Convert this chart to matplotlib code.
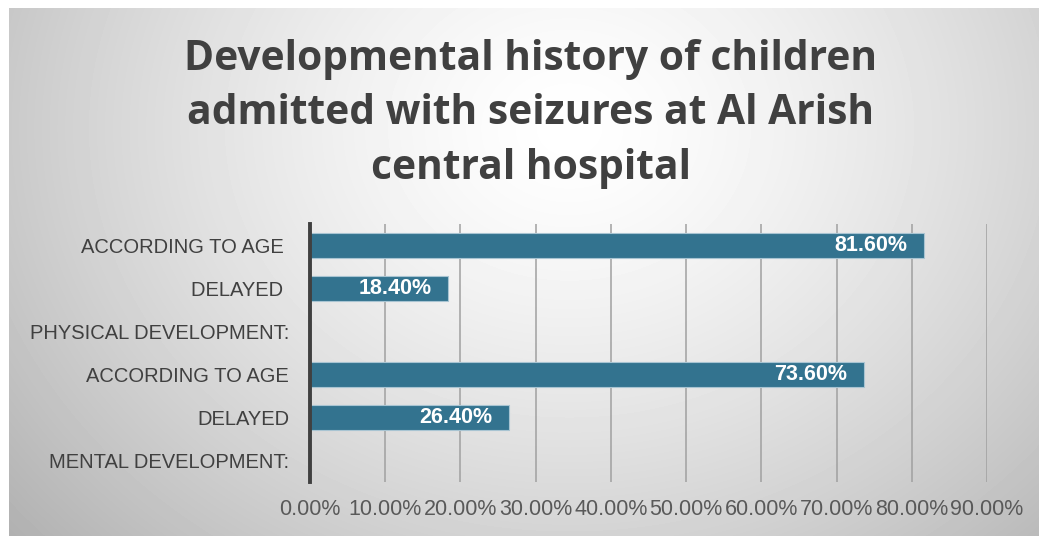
import numpy as np
import matplotlib.pyplot as plt

# data, listed bottom to top as drawn
categories = ["MENTAL DEVELOPMENT:", "DELAYED", "ACCORDING TO AGE",
              "PHYSICAL DEVELOPMENT:", "DELAYED ", "ACCORDING TO AGE "]
values = [np.nan, 26.4, 73.6, np.nan, 18.4, 81.6]
xticks = [0, 10, 20, 30, 40, 50, 60, 70, 80, 90]
title = "Developmental history of children\nadmitted with seizures at Al Arish\ncentral hospital"

W, H = 1039, 536
fig = plt.figure(figsize=(W / 100, H / 100), dpi=100)
fig.patch.set_facecolor("white")

# radial grey gradient background of the chart area
bg = fig.add_axes([9 / W, 0, 1 - 9 / W, 1 - 8 / H], zorder=-5)
yy, xx = np.mgrid[0:528, 0:1030]
r = np.sqrt(((xx - 560) / 620) ** 2 + ((yy - 120) / 520) ** 2)
shade = 1.0 - 0.24 * np.clip(r, 0, 1.2) ** 1.4
bg.imshow(shade, cmap="gray", vmin=0, vmax=1, aspect="auto", interpolation="bilinear")
bg.set_axis_off()

ax = fig.add_axes([310 / W, 1 - 482 / H, (987 - 310) / W, (482 - 224) / H])
ax.set_facecolor("none")

y = np.arange(len(categories))
bars = ax.barh(y, values, height=0.58, color="#33738f", edgecolor="#a8c4d2",
               linewidth=0.8, zorder=3)
for b, v in zip(bars, values):
    if np.isnan(v):
        continue
    ax.text(v - 2.2, b.get_y() + b.get_height() / 2, f"{v:.2f}%", ha="right",
            va="center", color="white", fontsize=15.5, fontweight="bold",
            family="Liberation Sans", zorder=4)

ax.set_xlim(0, 90)
ax.set_ylim(-0.5, len(categories) - 0.5)
ax.set_xticks(xticks)
ax.set_xticklabels([f"{t:.2f}%" for t in xticks], fontsize=15.5,
                   color="#595959", family="Liberation Sans")
ax.set_yticks(y)
ax.set_yticklabels(categories, fontsize=14.5, color="#404040",
                   family="Liberation Sans")
ax.tick_params(axis="both", length=0)
ax.tick_params(axis="x", pad=12)
ax.tick_params(axis="y", pad=15)
ax.grid(axis="x", color="#a0a0a0", linewidth=1.1, zorder=0)
for s in ["top", "right", "bottom"]:
    ax.spines[s].set_visible(False)
ax.spines["left"].set_color("#404040")
ax.spines["left"].set_linewidth(2.8)
ax.spines["left"].set_zorder(5)

fig.text(531 / W, 1 - 114 / H, title, ha="center", va="center", fontsize=29.3,
         fontweight="bold", color="#404040", family="Open Sans", linespacing=1.42)

fig.savefig("out.png", dpi=100)
